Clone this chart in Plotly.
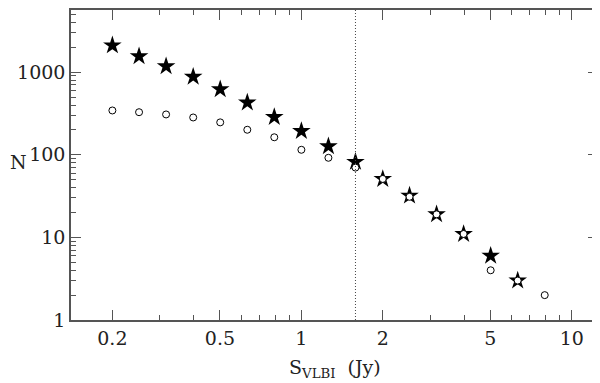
import plotly.graph_objects as go

# flux density bins (Jy), 0.1 dex steps
s_bins = [0.2, 0.251, 0.316, 0.398, 0.501, 0.631, 0.794, 1.0, 1.259, 1.585,
          2.0, 2.512, 3.162, 3.981, 5.012, 6.31, 7.943]

# filled stars: cumulative counts (all sources)
n_stars = [2110, 1556, 1180, 880, 620, 430, 286, 194, 127, 82,
           51, 32, 19, 11, 6, 3, None]

# open circles: cumulative counts (VLBI detected)
n_circles = [344, 328, 308, 283, 247, 201, 163, 115, 92, 70,
             51, 31, 19, 11, 4, 3, 2]

cutoff = 1.585

x_major = [0.2, 0.5, 1, 2, 5, 10]
x_labels = ["0.2", "0.5", "1", "2", "5", "10"]
x_minor = [0.3, 0.4, 0.6, 0.7, 0.8, 0.9, 3, 4, 6, 7, 8, 9]
y_major = [1, 10, 100, 1000]
y_minor = [m * 10 ** e for e in range(4) for m in range(2, 10)]

font_name = "DejaVu Serif"
axis_col = "#555555"
txt_col = "#222222"

fig = go.Figure()

fig.add_trace(go.Scatter(
    x=s_bins, y=n_stars, mode="markers",
    marker=dict(symbol="star", size=14, color="black", line=dict(width=0)),
    showlegend=False,
))
fig.add_trace(go.Scatter(
    x=s_bins, y=n_circles, mode="markers",
    marker=dict(symbol="circle", size=7, color="white",
                line=dict(width=1, color="black")),
    showlegend=False,
))

# vertical dotted line at the flux limit
fig.add_shape(type="line", xref="x", yref="paper", x0=cutoff, x1=cutoff,
              y0=0, y1=1, line=dict(color="#444444", width=1, dash="1px,2px"))

axis_common = dict(
    type="log", showgrid=False, zeroline=False,
    showline=True, linecolor=axis_col, linewidth=1.5, mirror="allticks",
    ticks="inside", ticklen=10, tickcolor=axis_col, tickwidth=1,
    tickfont=dict(family=font_name, size=19, color=txt_col),
)

fig.update_xaxes(
    **axis_common, range=[-0.852, 1.097],
    tickmode="array", tickvals=x_major, ticktext=x_labels,
    minor=dict(ticks="inside", ticklen=5, tickcolor=axis_col,
               tickmode="array", tickvals=x_minor, showgrid=False),
)
fig.update_yaxes(
    **axis_common, range=[0, 3.753],
    tickmode="array", tickvals=y_major, ticktext=["1", "10", "100", "1000"],
    minor=dict(ticks="inside", ticklen=5, tickcolor=axis_col,
               tickmode="array", tickvals=y_minor, showgrid=False),
)

fig.add_annotation(text="N", xref="paper", yref="paper", x=-0.119, y=0.51,
                   showarrow=False, xanchor="left", yanchor="middle",
                   font=dict(family=font_name, size=19, color=txt_col))
fig.add_annotation(text="S<sub>VLBI</sub>  (Jy)", xref="paper", yref="paper",
                   x=0.5, y=-0.155, showarrow=False, xanchor="center",
                   yanchor="middle",
                   font=dict(family=font_name, size=19, color=txt_col))

# page is drawn with an 8px body offset, so margins are shifted to match
fig.update_layout(
    width=600, height=383,
    margin=dict(l=63, r=10, t=0, b=71),
    plot_bgcolor="white", paper_bgcolor="white",
)

fig.write_html("out.html")
